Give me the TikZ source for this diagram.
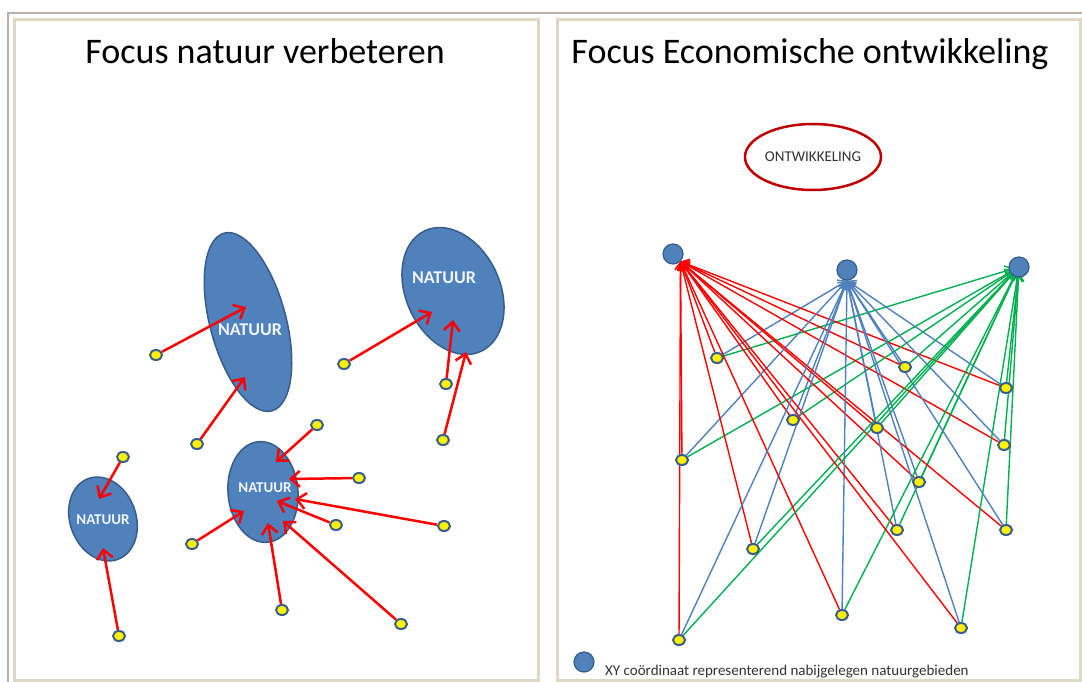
\documentclass[tikz,border=0pt]{standalone}
\usepackage{fontspec}
\setmainfont{Carlito}
\usetikzlibrary{shapes.geometric, arrows.meta, backgrounds}
\definecolor{natuurcolor}{RGB}{79,129,189}
\definecolor{randcolor}{RGB}{56,93,138}
\definecolor{panelcolor}{RGB}{221,217,195}
\definecolor{outercolor}{RGB}{185,176,168}
\definecolor{ontwcolor}{RGB}{192,0,0}
\definecolor{groencolor}{RGB}{0,176,80}
\definecolor{tekstcolor}{RGB}{50,50,50}

\begin{document}
\begin{tikzpicture}[
    x=1pt, y=-1pt,
    panel/.style={draw=panelcolor, line width=3pt},
    title/.style={font=\fontsize{36}{40}\selectfont, anchor=base, inner sep=0pt},
    natuur/.style={draw=randcolor, line width=1.5pt, fill=natuurcolor, ellipse, inner sep=0pt},
    natuurtext/.style={text=white!92!natuurcolor, font=\bfseries\fontsize{18}{20}\selectfont, inner sep=0pt},
    punt/.style={draw=randcolor, line width=2pt, fill=yellow, ellipse, minimum width=12pt, minimum height=10pt, inner sep=0pt},
    xy/.style={draw=randcolor, line width=1.2pt, fill=natuurcolor, circle, minimum size=20pt, inner sep=0pt},
    natarrow/.style={-{Straight Barb[length=9pt, width=16pt]}, red, line width=2.5pt},
    toxyr/.style={-{Straight Barb[length=7pt, width=11pt]}, red, line width=1.4pt},
    toxyb/.style={-{Straight Barb[length=7pt, width=11pt]}, natuurcolor, line width=1.4pt},
    toxyg/.style={-{Straight Barb[length=7pt, width=11pt]}, groencolor, line width=1.4pt, shorten >=6pt}
]
    \useasboundingbox (0,0) rectangle (1082,682);

    % Frames
    \draw[outercolor, line width=1.5pt] (8,682) -- (8,13) -- (1082,13);
    \draw[panel] (14,20) rectangle (538,680);
    \draw[panel] (557,20) rectangle (1080,680);

    % Titles
    \node[title] (t1) at (265,64) {Focus natuur verbeteren};
    \node[title] (t2) at (810,64) {Focus Economische ontwikkeling};

    % Natuur areas
    \node[natuur, minimum width=76pt, minimum height=184pt, rotate=15] (n1) at (248,322) {};
    \node[natuur, minimum width=94pt, minimum height=133pt, rotate=25] (n2) at (453,291) {};
    \node[natuur, minimum width=66pt, minimum height=86pt, rotate=20] (n3) at (103,519) {};
    \node[natuur, minimum width=70pt, minimum height=101pt, rotate=5] (n4) at (263,492) {};
    \node[natuurtext] (n1t) at (250,330) {NATUUR};
    \node[natuurtext] (n2t) at (444,278) {NATUUR};
    \node[natuurtext, font=\bfseries\fontsize{15}{18}\selectfont] (n3t) at (103,520) {NATUUR};
    \node[natuurtext, font=\bfseries\fontsize{15}{18}\selectfont] (n4t) at (265,488) {NATUUR};

    % Points left
    \node[punt] (d1) at (156,355) {};
    \node[punt] (d2) at (197,444) {};
    \node[punt] (d3) at (344,364) {};
    \node[punt] (d4) at (446,384) {};
    \node[punt] (d5) at (443,440) {};
    \node[punt] (d6) at (317,425) {};
    \node[punt] (d7) at (123,457) {};
    \node[punt] (d8) at (359,478) {};
    \node[punt] (d9) at (444,526) {};
    \node[punt] (d10) at (336,525) {};
    \node[punt] (d11) at (192,544) {};
    \node[punt] (d12) at (282,610) {};
    \node[punt] (d13) at (401,624) {};
    \node[punt] (d14) at (119,636) {};

    % Arrow ends inside the areas
    \coordinate (e1) at (246,307);
    \coordinate (e2) at (245,377);
    \coordinate (e3) at (432,312);
    \coordinate (e4) at (453,320);
    \coordinate (e5) at (466,352);
    \coordinate (e6) at (276,462);
    \coordinate (e7) at (99,499);
    \coordinate (e8) at (289,479);
    \coordinate (e9) at (295,499);
    \coordinate (e10) at (277,501);
    \coordinate (e11) at (244,511);
    \coordinate (e12) at (268,523);
    \coordinate (e13) at (283,521);
    \coordinate (e14) at (103,548);

    \draw[natarrow] (d1) -- (e1);
    \draw[natarrow] (d2) -- (e2);
    \draw[natarrow] (d3) -- (e3);
    \draw[natarrow] (d4) -- (e4);
    \draw[natarrow] (d5) -- (e5);
    \draw[natarrow] (d6) -- (e6);
    \draw[natarrow] (d7) -- (e7);
    \draw[natarrow] (d8) -- (e8);
    \draw[natarrow] (d9) -- (e9);
    \draw[natarrow] (d10) -- (e10);
    \draw[natarrow] (d11) -- (e11);
    \draw[natarrow] (d12) -- (e12);
    \draw[natarrow] (d13) -- (e13);
    \draw[natarrow] (d14) -- (e14);

    % Ontwikkeling
    \node[draw=ontwcolor, line width=2.5pt, ellipse, minimum width=132pt, minimum height=66pt, inner sep=0pt,
          text=tekstcolor, font=\fontsize{15}{18}\selectfont] (ontw) at (813,157) {ONTWIKKELING};

    % XY coordinates
    \node[xy] (xyr) at (673,254) {};
    \node[xy] (xyb) at (847,270) {};
    \node[xy] (xyg) at (1019,267) {};

    % Points right
    \node[punt] (p1) at (717,358) {};
    \node[punt] (p2) at (905,367) {};
    \node[punt] (p3) at (1006,388) {};
    \node[punt] (p4) at (793,420) {};
    \node[punt] (p5) at (877,428) {};
    \node[punt] (p6) at (682,460) {};
    \node[punt] (p7) at (1004,445) {};
    \node[punt] (p8) at (919,482) {};
    \node[punt] (p9) at (897,530) {};
    \node[punt] (p10) at (1006,530) {};
    \node[punt] (p11) at (753,549) {};
    \node[punt] (p12) at (842,615) {};
    \node[punt] (p13) at (961,628) {};
    \node[punt] (p14) at (679,640) {};

    \begin{scope}[on background layer]
    \draw[toxyr] (p1) -- (xyr.south east); \draw[toxyb] (p1) -- (xyb.south); \draw[toxyg] (p1) -- (xyg.center);
    \draw[toxyr] (p2) -- (xyr.south east); \draw[toxyb] (p2) -- (xyb.south); \draw[toxyg] (p2) -- (xyg.center);
    \draw[toxyr] (p3) -- (xyr.south east); \draw[toxyb] (p3) -- (xyb.south); \draw[toxyg] (p3) -- (xyg.center);
    \draw[toxyr] (p4) -- (xyr.south east); \draw[toxyb] (p4) -- (xyb.south); \draw[toxyg] (p4) -- (xyg.center);
    \draw[toxyr] (p5) -- (xyr.south east); \draw[toxyb] (p5) -- (xyb.south); \draw[toxyg] (p5) -- (xyg.center);
    \draw[toxyr] (p6) -- (xyr.south east); \draw[toxyb] (p6) -- (xyb.south); \draw[toxyg] (p6) -- (xyg.center);
    \draw[toxyr] (p7) -- (xyr.south east); \draw[toxyb] (p7) -- (xyb.south); \draw[toxyg] (p7) -- (xyg.center);
    \draw[toxyr] (p8) -- (xyr.south east); \draw[toxyb] (p8) -- (xyb.south); \draw[toxyg] (p8) -- (xyg.center);
    \draw[toxyr] (p9) -- (xyr.south east); \draw[toxyb] (p9) -- (xyb.south); \draw[toxyg] (p9) -- (xyg.center);
    \draw[toxyr] (p10) -- (xyr.south east); \draw[toxyb] (p10) -- (xyb.south); \draw[toxyg] (p10) -- (xyg.center);
    \draw[toxyr] (p11) -- (xyr.south east); \draw[toxyb] (p11) -- (xyb.south); \draw[toxyg] (p11) -- (xyg.center);
    \draw[toxyr] (p12) -- (xyr.south east); \draw[toxyb] (p12) -- (xyb.south); \draw[toxyg] (p12) -- (xyg.center);
    \draw[toxyr] (p13) -- (xyr.south east); \draw[toxyb] (p13) -- (xyb.south); \draw[toxyg] (p13) -- (xyg.center);
    \draw[toxyr] (p14) -- (xyr.south east); \draw[toxyb] (p14) -- (xyb.south); \draw[toxyg] (p14) -- (xyg.center);
    \end{scope}

    % Legend
    \node[xy] (leg) at (584,662) {};
    \node[anchor=base west, inner sep=0pt, text=tekstcolor, font=\fontsize{15}{18}\selectfont] (legtext) at (605,675) {XY coördinaat representerend nabijgelegen natuurgebieden};
\end{tikzpicture}
\end{document}
